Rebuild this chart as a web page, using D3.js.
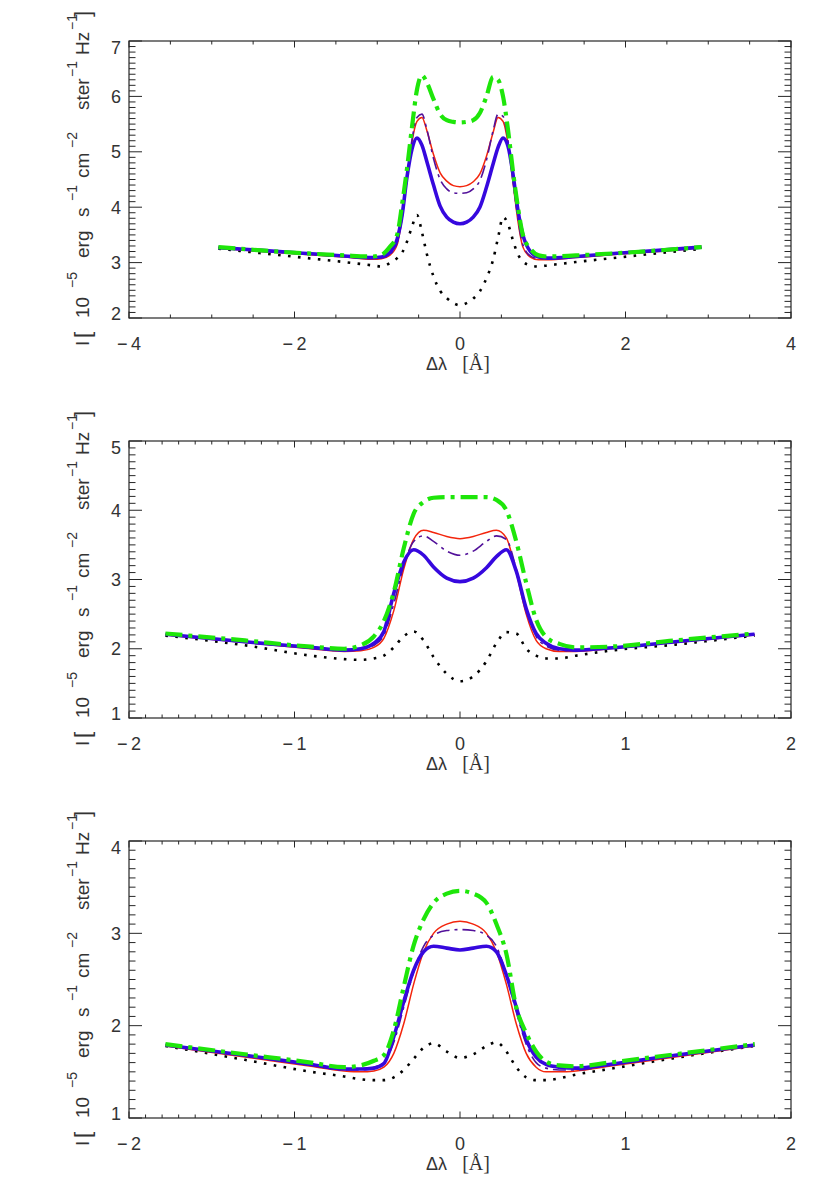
<!DOCTYPE html>
<html><head><meta charset="utf-8">
<script src="https://cdn.jsdelivr.net/npm/d3@7"></script>
<style>html,body{margin:0;padding:0;background:#fff;}svg{display:block;}</style>
</head><body>
<svg id="chart" width="830" height="1199"></svg>
<script>
// ---------- DATA ----------
// Panel 1 (top)
const x1 = [-2.92,-2.4,-1.9,-1.4,-1.06,-0.95,-0.85,-0.76,-0.7,-0.64,-0.58,-0.52,-0.46,-0.4,-0.32,-0.24,-0.16,-0.08,0,0.08,0.16,0.24,0.32,0.4,0.46,0.52,0.58,0.64,0.7,0.76,0.85,0.95,1.06,1.4,1.9,2.4,2.92];
const dotted1 = [3.25,3.17,3.09,3.01,2.95,2.93,2.99,3.08,3.18,3.38,3.65,3.86,3.55,3.15,2.75,2.49,2.36,2.27,2.23,2.27,2.35,2.48,2.72,3.05,3.45,3.82,3.7,3.4,3.15,3.02,2.95,2.93,2.95,3.01,3.09,3.17,3.25];
const blue1   = [3.27,3.22,3.17,3.12,3.09,3.10,3.18,3.42,3.85,4.55,5.05,5.25,5.12,4.82,4.40,4.02,3.82,3.73,3.70,3.73,3.82,4.00,4.36,4.78,5.08,5.25,5.10,4.60,3.95,3.50,3.20,3.10,3.08,3.11,3.17,3.22,3.28];
const red1    = [3.26,3.20,3.15,3.10,3.06,3.07,3.13,3.32,3.80,4.50,5.18,5.55,5.62,5.38,4.95,4.62,4.47,4.39,4.37,4.39,4.46,4.60,4.92,5.35,5.62,5.55,5.15,4.45,3.75,3.28,3.10,3.05,3.05,3.09,3.15,3.20,3.27];
const purple1 = [3.27,3.21,3.16,3.11,3.08,3.09,3.15,3.36,3.85,4.55,5.22,5.62,5.68,5.40,4.88,4.50,4.33,4.26,4.25,4.26,4.33,4.48,4.85,5.38,5.68,5.64,5.20,4.50,3.80,3.32,3.12,3.07,3.07,3.10,3.16,3.21,3.27];
const green1  = [3.28,3.22,3.17,3.13,3.11,3.14,3.28,3.50,4.05,4.70,5.45,6.12,6.38,6.25,5.95,5.68,5.57,5.54,5.53,5.54,5.57,5.70,6.00,6.35,6.30,6.00,5.40,4.65,4.00,3.50,3.25,3.13,3.11,3.13,3.17,3.22,3.28];

// Panel 2 (middle)
const x2 = [-1.78,-1.3,-0.9,-0.7,-0.6,-0.52,-0.46,-0.4,-0.34,-0.28,-0.22,-0.16,-0.08,0,0.08,0.16,0.22,0.28,0.34,0.4,0.46,0.52,0.6,0.7,0.9,1.3,1.78];
const dotted2 = [2.19,2.05,1.90,1.85,1.84,1.86,1.90,2.02,2.18,2.25,2.12,1.88,1.64,1.53,1.60,1.82,2.08,2.24,2.22,2.00,1.90,1.86,1.86,1.90,1.97,2.06,2.19];
const blue2   = [2.21,2.10,2.02,1.98,2.00,2.08,2.25,2.80,3.25,3.43,3.35,3.18,3.02,2.97,3.02,3.17,3.33,3.43,3.12,2.58,2.22,2.08,2.00,1.98,2.01,2.10,2.21];
const red2    = [2.20,2.09,2.00,1.96,1.97,2.02,2.15,2.55,3.15,3.58,3.71,3.68,3.62,3.59,3.62,3.68,3.71,3.60,3.10,2.50,2.12,2.00,1.96,1.96,2.00,2.09,2.20];
const purple2 = [2.21,2.10,2.01,1.97,1.99,2.05,2.20,2.65,3.20,3.55,3.63,3.55,3.41,3.35,3.41,3.55,3.63,3.58,3.15,2.58,2.18,2.04,1.98,1.97,2.01,2.10,2.21];
const green2  = [2.22,2.12,2.03,2.00,2.05,2.18,2.40,2.82,3.45,3.95,4.12,4.18,4.19,4.19,4.19,4.19,4.15,4.00,3.55,2.95,2.42,2.17,2.07,2.02,2.03,2.12,2.22];

// Panel 3 (bottom)
const x3 = [-1.78,-1.3,-0.9,-0.7,-0.6,-0.52,-0.46,-0.4,-0.34,-0.28,-0.22,-0.16,-0.08,0,0.08,0.16,0.22,0.28,0.34,0.4,0.46,0.52,0.6,0.7,0.9,1.3,1.78];
const dotted3 = [1.78,1.63,1.50,1.45,1.42,1.41,1.41,1.44,1.52,1.64,1.76,1.81,1.72,1.65,1.69,1.78,1.82,1.72,1.55,1.44,1.41,1.41,1.43,1.47,1.53,1.65,1.78];
const blue3   = [1.79,1.68,1.58,1.53,1.53,1.54,1.59,1.88,2.26,2.60,2.80,2.86,2.84,2.82,2.84,2.86,2.80,2.55,2.20,1.85,1.66,1.58,1.55,1.54,1.58,1.68,1.79];
const red3    = [1.78,1.66,1.56,1.51,1.50,1.51,1.55,1.70,2.02,2.45,2.80,3.00,3.10,3.13,3.10,3.00,2.80,2.45,2.02,1.70,1.55,1.50,1.50,1.51,1.56,1.66,1.78];
const purple3 = [1.79,1.67,1.57,1.52,1.52,1.55,1.60,1.82,2.20,2.58,2.86,2.98,3.03,3.04,3.03,2.98,2.86,2.55,2.15,1.80,1.60,1.54,1.52,1.52,1.57,1.67,1.79];
const green3  = [1.80,1.69,1.60,1.55,1.57,1.62,1.68,1.95,2.42,2.87,3.15,3.33,3.43,3.46,3.43,3.33,3.10,2.78,2.20,1.92,1.72,1.61,1.57,1.56,1.60,1.69,1.80];

// Axis ranges and tick labels
const xDomain1 = [-4, 4], yDomain1 = [2, 7];
const xDomain2 = [-2, 2], yDomain2 = [1, 5];
const xDomain3 = [-2, 2], yDomain3 = [1, 4];
const xTicks1 = [-4, -2, 0, 2, 4], yTicks1 = [2, 3, 4, 5, 6, 7];
const xTicks2 = [-2, -1, 0, 1, 2], yTicks2 = [1, 2, 3, 4, 5];
const xTicks3 = [-2, -1, 0, 1, 2], yTicks3 = [1, 2, 3, 4];
const xMinor1 = 0.5, xMinor2 = 0.1, xMinor3 = 0.1;
const yMinor1 = 0.1, yMinor2 = 0.1, yMinor3 = 0.1;
const xTitle = "Δλ";
// y-title pieces: text, kind (base / sup / bracket)
const yTitleText = ["I", "[", "10", "−5", "erg", "s", "−1", "cm", "−2", "ster", "−1", "Hz", "−1", "]"];
const yTitleKind = ["base", "bracket", "base", "sup", "base", "base", "sup", "base", "sup", "base", "sup", "base", "sup", "bracket"];
const yTitleStart = [-3, 5, 25, 55, 85, 126, 142, 165, 195, 233, 266, 288, 313, 326];

// ---------- STYLES ----------
const seriesStyle = [
  {key: "dotted", color: "#000000", width: 2.6, dash: "2.6,7.4", cap: "butt"},
  {key: "red",    color: "#f3250c", width: 1.5, dash: null, cap: "butt"},
  {key: "purple", color: "#52119a", width: 1.6, dash: "13,5,3,5", cap: "butt"},
  {key: "blue",   color: "#3608de", width: 3.6, dash: null, cap: "butt"},
  {key: "green",  color: "#1ee60a", width: 4.2, dash: "17,6,4,6", cap: "butt"}
];

const panels = [
  {top: 41,  x: x1, s: {dotted: dotted1, blue: blue1, red: red1, purple: purple1, green: green1}, xd: xDomain1, yd: yDomain1, xt: xTicks1, yt: yTicks1, xm: xMinor1, ym: yMinor1},
  {top: 441, x: x2, s: {dotted: dotted2, blue: blue2, red: red2, purple: purple2, green: green2}, xd: xDomain2, yd: yDomain2, xt: xTicks2, yt: yTicks2, xm: xMinor2, ym: yMinor2},
  {top: 841, x: x3, s: {dotted: dotted3, blue: blue3, red: red3, purple: purple3, green: green3}, xd: xDomain3, yd: yDomain3, xt: xTicks3, yt: yTicks3, xm: xMinor3, ym: yMinor3}
];

const L = 129, R = 791, H = 277;
const svg = d3.select("#chart");
const axisColor = "#262626";
const fmt = v => v < 0 ? "\u2212\u2009" + Math.abs(v) : String(v);

panels.forEach(p => {
  const g = svg.append("g");
  const xs = d3.scaleLinear().domain(p.xd).range([L, R]);
  const ys = d3.scaleLinear().domain(p.yd).range([p.top + H, p.top]);

  // curves
  seriesStyle.forEach(st => {
    const data = p.x.map((xv, i) => [xv, p.s[st.key][i]]);
    const line = d3.line().x(d => xs(d[0])).y(d => ys(d[1])).curve(d3.curveMonotoneX);
    const path = g.append("path").attr("d", line(data)).attr("fill", "none")
      .attr("stroke", st.color).attr("stroke-width", st.width)
      .attr("stroke-linejoin", "round").attr("stroke-linecap", st.cap);
    if (st.dash) path.attr("stroke-dasharray", st.dash);
  });

  // frame
  g.append("rect").attr("x", L).attr("y", p.top).attr("width", R - L).attr("height", H)
    .attr("fill", "none").attr("stroke", axisColor).attr("stroke-width", 1.2);

  // x ticks (bottom & top)
  const xMinorVals = d3.range(p.xd[0], p.xd[1] + 1e-9, p.xm);
  xMinorVals.forEach(v => {
    const isMajor = p.xt.some(t => Math.abs(t - v) < 1e-6);
    const len = isMajor ? 6.5 : 3.5;
    const X = xs(v);
    g.append("line").attr("x1", X).attr("x2", X).attr("y1", p.top + H).attr("y2", p.top + H - len)
      .attr("stroke", axisColor).attr("stroke-width", 1);
    g.append("line").attr("x1", X).attr("x2", X).attr("y1", p.top).attr("y2", p.top + len)
      .attr("stroke", axisColor).attr("stroke-width", 1);
  });
  // y ticks (left & right)
  const yMinorVals = d3.range(p.yd[0], p.yd[1] + 1e-9, p.ym);
  yMinorVals.forEach(v => {
    const isMajor = p.yt.some(t => Math.abs(t - v) < 1e-6);
    const len = isMajor ? 13 : 6.5;
    const Y = ys(v);
    g.append("line").attr("x1", L).attr("x2", L + len).attr("y1", Y).attr("y2", Y)
      .attr("stroke", axisColor).attr("stroke-width", 1);
    g.append("line").attr("x1", R).attr("x2", R - len).attr("y1", Y).attr("y2", Y)
      .attr("stroke", axisColor).attr("stroke-width", 1);
  });

  // x tick labels
  p.xt.forEach(v => {
    g.append("text").attr("x", xs(v)).attr("y", p.top + H + 32)
      .attr("text-anchor", "middle").attr("font-family", "Liberation Sans, Arial, sans-serif")
      .attr("font-size", 18).attr("fill", "#333").text(fmt(v));
  });
  // y tick labels
  p.yt.forEach((v, i) => {
    let off = 0;
    if (i === 0) off = -5;
    if (i === p.yt.length - 1) off = 6;
    g.append("text").attr("x", 121).attr("y", ys(v) + off + 6.5)
      .attr("text-anchor", "end").attr("font-family", "Liberation Sans, Arial, sans-serif")
      .attr("font-size", 18).attr("fill", "#333").text(fmt(v));
  });

  // x title
  const xt = g.append("text").attr("x", 458).attr("y", p.top + H + 52)
    .attr("xml:space", "preserve")
    .attr("text-anchor", "middle").attr("font-size", 18).attr("fill", "#333");
  xt.append("tspan").attr("font-family", "Liberation Sans, Arial, sans-serif").text(xTitle + "   ");
  xt.append("tspan").attr("font-family", "Liberation Serif, serif").attr("font-size", 20).text("[Å]");

  // y title (rotated, pieces placed along the axis)
  const yg = g.append("g").attr("transform", `translate(89,${p.top + H + 25}) rotate(-90)`);
  yTitleText.forEach((t, i) => {
    const kind = yTitleKind[i];
    const el = yg.append("text").attr("x", yTitleStart[i]).attr("fill", "#333")
      .attr("font-family", "Liberation Sans, Arial, sans-serif").text(t);
    if (kind === "sup") el.attr("y", -12).attr("font-size", 14);
    else if (kind === "bracket") el.attr("y", 1).attr("font-size", 22);
    else el.attr("y", 0).attr("font-size", 19);
  });
});
</script>
</body></html>
